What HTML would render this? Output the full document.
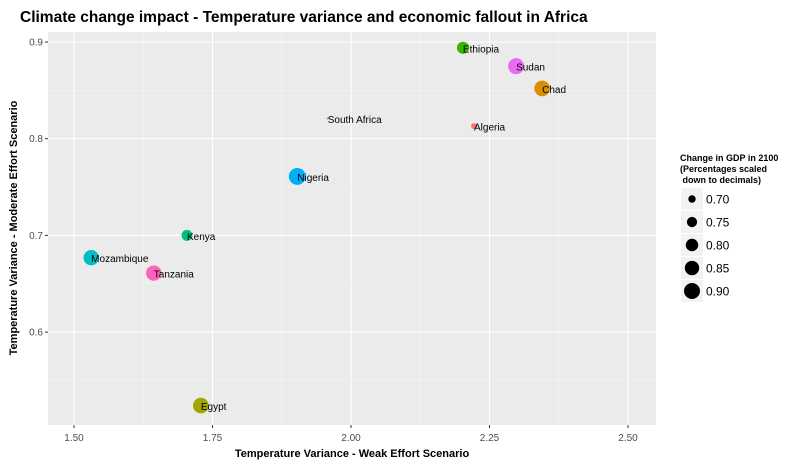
<!DOCTYPE html>
<html><head><meta charset="utf-8"><style>
body{margin:0;background:#fff;font-family:"Liberation Sans",Arial,sans-serif}
</style></head><body>
<svg id="chart" width="800" height="467" xmlns="http://www.w3.org/2000/svg" font-family="Liberation Sans, Arial, sans-serif">
<text x="20" y="22" font-size="15.5" font-weight="bold">Climate change impact - Temperature variance and economic fallout in Africa</text>
<rect x="48" y="32" width="608" height="393" fill="#ebebeb"/>
<g id="grid"></g><g id="points"></g><g id="axes"></g>
<text x="352" y="457" font-size="11" font-weight="bold" text-anchor="middle">Temperature Variance - Weak Effort Scenario</text>
<text transform="translate(17,228) rotate(-90)" font-size="11" font-weight="bold" text-anchor="middle">Temperature Variance - Moderate Effort Scenario</text>
<g>
<text x="680" y="161" font-size="9" font-weight="bold">Change in GDP in 2100</text>
<text x="680" y="172" font-size="9" font-weight="bold">(Percentages scaled</text>
<text x="680" y="183" font-size="9" font-weight="bold" xml:space="preserve"> down to decimals)</text>
<g id="legend-keys"></g>
</g>
</svg>
<script>
const countries=["Ethiopia","Sudan","Chad","South Africa","Algeria","Nigeria","Kenya","Mozambique","Tanzania","Egypt"];
const weak=[2.202,2.298,2.345,1.958,2.222,1.903,1.704,1.531,1.644,1.729];
const moderate=[0.894,0.875,0.852,0.821,0.813,0.761,0.700,0.677,0.661,0.524];
const gdp=[0.79,0.90,0.89,0.65,0.68,0.93,0.765,0.88,0.88,0.89];
const colors=["#39B600","#E76BF3","#D89000","#9590FF","#F8766D","#00B0F6","#00BF7D","#00BFC4","#FF62BC","#A3A500"];
const xTicks=[1.5,1.75,2.0,2.25,2.5];
const xLabels=["1.50","1.75","2.00","2.25","2.50"];
const yTicks=[0.6,0.7,0.8,0.9];
const yLabels=["0.6","0.7","0.8","0.9"];
const legendVals=[0.70,0.75,0.80,0.85,0.90];
const legendLabels=["0.70","0.75","0.80","0.85","0.90"];
const NS="http://www.w3.org/2000/svg";
const X=v=>74+(v-1.5)*554;
const Y=v=>42+(0.9-v)*967;
const R=v=>Math.sqrt(Math.max(0.8,13.7+251*(v-0.7)));
function mk(t,a,p){const e=document.createElementNS(NS,t);for(const k in a)e.setAttribute(k,a[k]);p.appendChild(e);return e;}
const grid=document.getElementById('grid'),axes=document.getElementById('axes'),pts=document.getElementById('points');
for(let i=0;i<xTicks.length-1;i++){const m=mk('line',{x1:X(xTicks[i]+0.125),x2:X(xTicks[i]+0.125),y1:32,y2:425,stroke:'#f5f5f5','stroke-width':0.6},grid);}
for(let v=0.55;v<0.9;v+=0.1){const m=mk('line',{x1:48,x2:656,y1:Y(v),y2:Y(v),stroke:'#f5f5f5','stroke-width':0.6},grid);}
xTicks.forEach((v,i)=>{const g=mk('line',{x1:X(v),x2:X(v),y1:32,y2:425,stroke:'#fff','stroke-width':1.1},grid);
mk('line',{x1:X(v),x2:X(v),y1:425,y2:428,stroke:'#333'},axes);
const t=mk('text',{x:X(v),y:441,'font-size':10,'text-anchor':'middle',fill:'#4d4d4d'},axes);t.textContent=xLabels[i];});
yTicks.forEach((v,i)=>{const g=mk('line',{x1:48,x2:656,y1:Y(v),y2:Y(v),stroke:'#fff','stroke-width':1.1},grid);
mk('line',{x1:45,x2:48,y1:Y(v),y2:Y(v),stroke:'#333'},axes);
const t=mk('text',{x:43,y:Y(v)+3.5,'font-size':10,'text-anchor':'end',fill:'#4d4d4d'},axes);t.textContent=yLabels[i];});
countries.forEach((c,i)=>{const p=mk('circle',{cx:X(weak[i]),cy:Y(moderate[i]),r:R(gdp[i]),fill:colors[i]},pts);
const t=mk('text',{x:X(weak[i]),y:Y(moderate[i])+4.5,'font-size':10,fill:'#000'},pts);t.textContent=c;});
const lk=document.getElementById('legend-keys');
legendVals.forEach((v,i)=>{const cy=199+i*23;
const b=mk('rect',{x:681,y:cy-11,width:22,height:22,fill:'#f2f2f2'},lk);
const c=mk('circle',{cx:692,cy:cy,r:R(v),fill:'#000'},lk);
const t=mk('text',{x:706,y:cy+4.5,'font-size':12},lk);t.textContent=legendLabels[i];});
</script>
</body></html>
